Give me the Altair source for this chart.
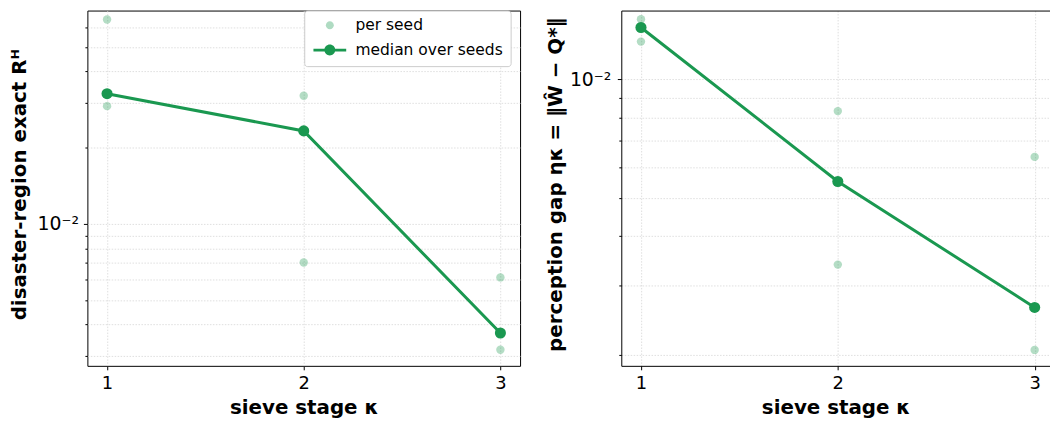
import altair as alt
import pandas as pd

# ---------------- data ----------------
stages = [1, 2, 3]
series_names = ["per seed", "median over seeds"]

# left panel: disaster-region exact R^H  (three seeds per stage)
left_seed_a = [0.0643, 0.0321, 0.00614]
left_seed_b = [0.0327, 0.0233, 0.00370]
left_seed_c = [0.0292, 0.00703, 0.00318]
left_median = [0.0327, 0.0233, 0.00370]

# right panel: perception gap eta_kappa
right_seed_a = [0.01421, 0.00831, 0.00636]
right_seed_b = [0.01354, 0.00551, 0.00264]
right_seed_c = [0.01247, 0.00339, 0.00206]
right_median = [0.01354, 0.00551, 0.00264]

left_ticks = [0.003, 0.004, 0.005, 0.006, 0.007, 0.008, 0.009, 0.01,
              0.02, 0.03, 0.04, 0.05, 0.06]
right_ticks = [0.002, 0.003, 0.004, 0.005, 0.006, 0.007, 0.008, 0.009, 0.01]

left_domain = [0.002745, 0.0697]
right_domain = [0.001877, 0.01495]

GREEN = "#1a9850"
LIGHT = "#afdbc2"
FONT = "DejaVu Sans"
GRID = "#d6d6d6"

# legend glyphs (custom symbol paths)
CIRCLE_PATH = "M-0.8,0A0.8,0.8,0,1,1,0.8,0A0.8,0.8,0,1,1,-0.8,0Z"
LINE_CIRCLE_PATH = ("M-3.3,-0.28L-1,-0.28L-1,0.28L-3.3,0.28Z"
                    "M1,-0.28L3.3,-0.28L3.3,0.28L1,0.28Z"
                    "M-1.1,0A1.1,1.1,0,1,1,1.1,0A1.1,1.1,0,1,1,-1.1,0Z")

PLOT_H = 358


def seeds_frame(a, b, c):
    rows = []
    for vals in (a, b, c):
        for s, v in zip(stages, vals):
            rows.append({"stage": s, "value": v})
    return pd.DataFrame(rows)


def median_frame(m):
    return pd.DataFrame({"stage": stages, "value": m})


def panel(seed_df, med_df, ytitle, ydomain, yticks, title_x, label_pad,
          width, xmax, with_legend, open_right):
    xscale = alt.Scale(domain=[0.9, xmax], nice=False, zero=False)
    x_bottom = alt.X(
        "stage:Q", scale=xscale,
        axis=alt.Axis(
            values=stages, format="d", title="sieve stage κ",
            titleFont=FONT, titleFontSize=20, titleFontWeight="bold",
            titleColor="black", titleY=42, titleBaseline="middle",
            labelFont=FONT, labelFontSize=18, labelColor="black",
            labelPadding=4.5, tickSize=4, tickColor="black",
            domain=open_right, domainColor="black", domainWidth=1,
            grid=True, gridColor=GRID, gridDash=[1.5, 1.5], gridWidth=0.8,
        ),
    )
    if open_right:
        x_top = alt.X(
            "stage:Q", scale=xscale,
            axis=alt.Axis(orient="top", title=None, labels=False,
                          ticks=False, grid=False, domain=True,
                          domainColor="black", domainWidth=1),
        )
    else:
        x_top = alt.X("stage:Q", scale=xscale, axis=None)
    x_none = alt.X("stage:Q", scale=xscale, axis=None)
    y = alt.Y(
        "value:Q",
        scale=alt.Scale(type="log", domain=ydomain, nice=False),
        axis=alt.Axis(
            values=yticks, title=ytitle,
            labelExpr="datum.value == 0.01 ? '10⁻²' : ''",
            titleFont=FONT, titleFontSize=20, titleFontWeight="bold",
            titleColor="black", titleX=title_x, titleY=175,
            titleBaseline="middle", titleAlign="center", titleAngle=270,
            labelFont=FONT, labelFontSize=19, labelColor="black",
            labelPadding=label_pad,
            tickSize={"condition": {"test": "datum.value == 0.01", "value": 4},
                      "value": 2.5},
            tickColor="black", domain=open_right, domainColor="black",
            domainWidth=1, grid=True,
            gridColor=GRID, gridDash=[1.5, 1.5], gridWidth=0.8,
        ),
    )
    seeds = alt.Chart(seed_df).mark_circle(
        size=72, color=GREEN, opacity=0.33
    ).encode(x=x_top, y=y)
    line = alt.Chart(med_df).mark_line(
        color=GREEN, strokeWidth=3
    ).encode(x=x_bottom, y=y)
    pts = alt.Chart(med_df).mark_circle(
        size=125, color=GREEN, opacity=1
    ).encode(x=x_none, y=y)
    layers = [seeds, line, pts]
    if with_legend:
        leg = alt.Legend(
            title=None, orient="none", legendX=218.5, legendY=0, padding=7,
            labelFont=FONT, labelFontSize=15.6, labelColor="black",
            symbolOffset=11, labelOffset=18, rowPadding=8,
            symbolSize=100, symbolStrokeWidth=0,
            strokeColor="#cccccc", fillColor="white", cornerRadius=3,
        )
        leg_df = pd.DataFrame({"series": series_names})
        dummy = alt.Chart(leg_df).transform_filter("false").mark_point(
            filled=True, size=100, opacity=1
        ).encode(
            color=alt.Color("series:N",
                            scale=alt.Scale(domain=series_names,
                                            range=[LIGHT, GREEN]),
                            legend=leg),
            shape=alt.Shape("series:N",
                            scale=alt.Scale(domain=series_names,
                                            range=[CIRCLE_PATH,
                                                   LINE_CIRCLE_PATH]),
                            legend=leg),
        )
        layers.append(dummy)
    out = alt.layer(*layers).resolve_axis(x="independent")
    if open_right:
        out = out.properties(width=width, height=PLOT_H,
                             view=alt.ViewBackground(strokeOpacity=0))
    else:
        out = out.properties(width=width, height=PLOT_H)
    return out


left = panel(seeds_frame(left_seed_a, left_seed_b, left_seed_c),
             median_frame(left_median),
             "disaster-region exact Rᴴ", left_domain, left_ticks,
             -68.5, 5, 436, 3.1, True, False)
right = panel(seeds_frame(right_seed_a, right_seed_b, right_seed_c),
              median_frame(right_median),
              "perception gap ηκ = ‖Ŵ − Q*‖", right_domain, right_ticks,
              -66.5, 6.5, 432, 3.078, False, True)

chart = alt.hconcat(left, right, spacing=24).resolve_scale(
    color="independent", shape="independent"
).properties(
    padding={"left": 1, "top": 0, "right": 0, "bottom": 0}
).configure(
    font=FONT
).configure_view(
    stroke="black", strokeWidth=1
)

chart.save("out.html", embed_options={"renderer": "svg", "actions": False})
